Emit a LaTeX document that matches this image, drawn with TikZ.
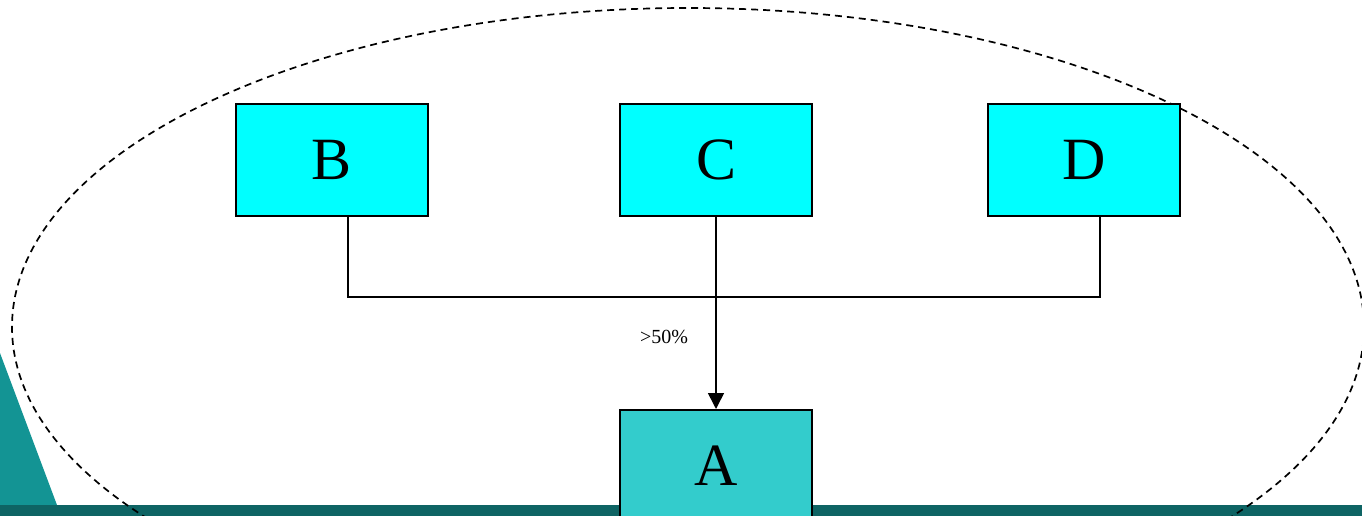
\documentclass[tikz,border=0pt]{standalone}
\usepackage{fontspec}
\setmainfont{Liberation Serif}
\usetikzlibrary{arrows.meta}
\definecolor{boxcyan}{HTML}{00FFFF}
\definecolor{boxteal}{HTML}{33CCCC}
\definecolor{bardark}{HTML}{0E6464}
\definecolor{wedge}{HTML}{139494}
\tikzset{
  entity/.style={draw=black, line width=1.6pt, minimum width=192pt, minimum height=112pt, inner sep=0pt, font=\fontsize{60}{60}\selectfont},
  link/.style={draw=black, line width=1.6pt},
}
\begin{document}
\begin{tikzpicture}[x=1pt,y=-1pt]
\useasboundingbox (0,0) rectangle (1362,516);
\clip (0,0) rectangle (1362,516);
\fill[white] (0,0) rectangle (1362,516);
% decorative background
\fill[wedge] (0,353) -- (57,505) -- (0,505) -- cycle;
\fill[bardark] (0,505) rectangle (1362,516);
% grouping ellipse
\draw[dash pattern=on 7pt off 5pt, line width=1.7pt] (688,327) ellipse [x radius=676, y radius=319];
% nodes
\node[entity, fill=boxcyan] (B) at (332,160) {\raisebox{-3pt}{B}};
\node[entity, fill=boxcyan] (C) at (716,160) {\raisebox{-3pt}{C}};
\node[entity, fill=boxcyan] (D) at (1084,160) {\raisebox{-3pt}{D}};
\node[entity, fill=boxteal, anchor=north] (A) at (716,409) {\raisebox{-3pt}{A}};
% connectors
\coordinate (bj) at ([xshift=16pt]B.south);
\coordinate (dj) at ([xshift=16pt]D.south);
\draw[link] (bj) -- ++(0,80) -| (dj);
\draw[link, -{Triangle[length=16pt,width=16pt]}] (C.south) -- (A.north);
\node[font=\fontsize{20}{20}\selectfont, anchor=center] (lbl) at (664,337) {>50\%};
\end{tikzpicture}
\end{document}
